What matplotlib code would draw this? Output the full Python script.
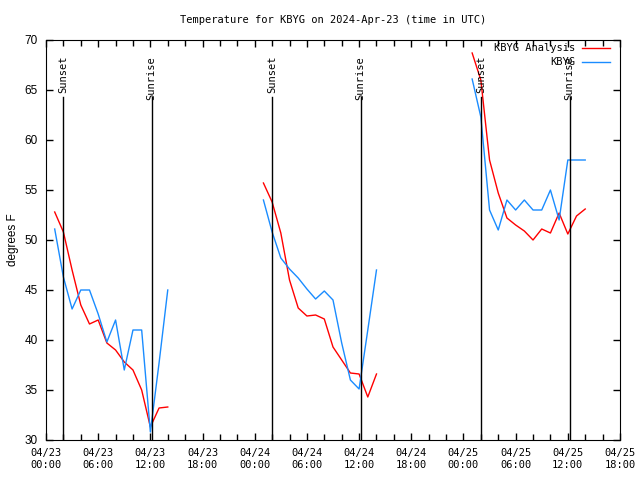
# KBYG temperature: analysis vs observations
import datetime as dt
import matplotlib
matplotlib.use('Agg')
import matplotlib.pyplot as plt
import matplotlib.dates as mdates

start = dt.datetime(2024, 4, 23, 0, 0)

# hours after 04/23 00:00 UTC, one list per night
hours = [
    [1, 2, 3, 4, 5, 6, 7, 8, 9, 10, 11, 12, 13, 14],
    [25, 26, 27, 28, 29, 30, 31, 32, 33, 34, 35, 36, 37, 38],
    [49, 50, 51, 52, 53, 54, 55, 56, 57, 58, 59, 60, 61, 62],
]
analysis = [
    [52.8, 50.8, 47.0, 43.5, 41.6, 42.0, 39.7, 39.0, 37.8, 37.0, 35.0, 31.3, 33.2, 33.3],
    [55.7, 53.8, 50.7, 46.0, 43.2, 42.4, 42.5, 42.1, 39.3, 38.0, 36.7, 36.6, 34.3, 36.6],
    [68.7, 66.0, 58.0, 54.7, 52.2, 51.5, 50.9, 50.0, 51.1, 50.7, 52.7, 50.6, 52.4, 53.1],
]
observed = [
    [51.1, 46.3, 43.1, 45.0, 45.0, 42.6, 39.8, 42.0, 37.0, 41.0, 41.0, 30.8, 37.7, 45.0],
    [54.0, 50.8, 48.2, 47.1, 46.2, 45.1, 44.1, 44.9, 44.0, 39.7, 36.0, 35.1, 41.0, 47.0],
    [66.1, 62.3, 53.0, 51.0, 54.0, 53.0, 54.0, 53.0, 53.0, 55.0, 52.0, 58.0, 58.0, 58.0],
]
# sunset / sunrise, hours after 04/23 00:00 UTC
sunsets = [1.95, 25.98, 50.0]
sunrises = [12.15, 36.17, 60.2]

mono = 'DejaVu Sans Mono'
sans = 'Liberation Sans'

fig = plt.figure(figsize=(6.4, 4.8), dpi=100)
ax = fig.add_axes([46/640, 40/480, 574/640, 400/480])

def t(h):
    return start + dt.timedelta(hours=h)

for hh, a, o in zip(hours, analysis, observed):
    x = [t(h) for h in hh]
    ax.plot(x, a, color='#ff0000', lw=1)
    ax.plot(x, o, color='#1a8cff', lw=1)

for h in sunsets:
    ax.plot([t(h), t(h)], [30, 64.3], color='black', lw=1)
    ax.text(t(h), 68.4, 'Sunset', rotation=90, ha='center', va='top',
            family=mono, fontsize=7.5)
for h in sunrises:
    ax.plot([t(h), t(h)], [30, 64.3], color='black', lw=1)
    ax.text(t(h), 68.4, 'Sunrise', rotation=90, ha='center', va='top',
            family=mono, fontsize=7.5)

ax.set_xlim(t(0), t(66))
ax.set_ylim(30, 70)
ax.set_yticks(range(30, 71, 5))
ax.xaxis.set_major_locator(mdates.HourLocator(byhour=[0, 6, 12, 18]))
ax.xaxis.set_minor_locator(mdates.HourLocator(byhour=range(0, 24, 2)))
ax.xaxis.set_major_formatter(mdates.DateFormatter('%m/%d\n%H:%M'))
ax.tick_params(which='both', direction='in', top=True, right=True, width=1)
ax.tick_params(which='major', length=5)
ax.tick_params(which='minor', length=4)
for lab in ax.get_xticklabels():
    lab.set_family(mono)
    lab.set_fontsize(7.5)
for lab in ax.get_yticklabels():
    lab.set_family(sans)
    lab.set_fontsize(8.5)
ax.tick_params(axis='x', pad=6)
ax.tick_params(axis='y', pad=6)

ax.set_title('Temperature for KBYG on 2024-Apr-23 (time in UTC)',
             family=mono, fontsize=7.5, pad=12)
ax.set_ylabel('degrees F', family=sans, fontsize=8.5, labelpad=4)

# legend, gnuplot style
for label, col, y in [('KBYG Analysis', '#ff0000', 0.98), ('KBYG', '#1a8cff', 0.945)]:
    ax.plot([0.934, 0.983], [y, y], color=col, lw=1, transform=ax.transAxes)
    ax.text(0.9216, y, label, ha='right', va='center', family=mono,
            fontsize=7.5, transform=ax.transAxes)

fig.savefig('out.png', dpi=100)
